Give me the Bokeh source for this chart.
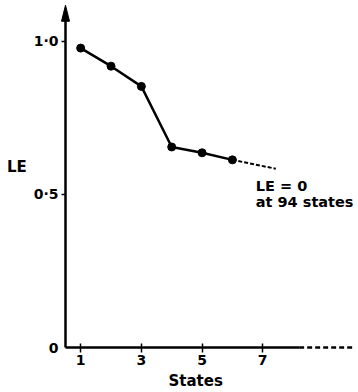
from bokeh.plotting import figure
from bokeh.models import Range1d, FixedTicker, Label, Title
from bokeh.embed import file_html
from bokeh.resources import INLINE

# data
states = [1, 2, 3, 4, 5, 6]
le = [0.978, 0.919, 0.853, 0.655, 0.636, 0.613]
trend_states = [6, 7.43]
trend_le = [0.613, 0.584]
x_ticks = [1, 3, 5, 7]
y_ticks = [0.0, 0.5, 1.0]
y_tick_labels = ["0", "0·5", "1·0"]
note_lines = ["LE = 0", "at 94 states"]

FONT = "DejaVu Sans"

X0, X1 = 0.335, 10.09
Y0, Y1 = -0.0163, 1.127
p = figure(width=358, height=392, output_backend="svg", toolbar_location=None,
           x_range=Range1d(X0, X1), y_range=Range1d(Y0, Y1),
           min_border_left=60, min_border_right=2, min_border_top=2, min_border_bottom=40)
p.outline_line_color = None
p.xgrid.visible = False
p.ygrid.visible = False

px_x = (X1 - X0) / (358 - 62)   # data units per pixel (x)
px_y = (Y1 - Y0) / (392 - 42)   # data units per pixel (y)

for ax in (p.xaxis, p.yaxis):
    ax.axis_line_color = None
    ax.minor_tick_line_color = None
    ax.major_tick_line_color = "black"
    ax.major_tick_line_width = 1.5
    ax.major_label_text_font = FONT
    ax.major_label_text_font_style = "bold"
    ax.major_label_text_font_size = "14px"
    ax.major_label_text_color = "black"

p.xaxis.ticker = FixedTicker(ticks=x_ticks)
p.xaxis.major_tick_in = 9
p.xaxis.major_tick_out = 0
p.xaxis.major_label_standoff = 2

p.yaxis.ticker = FixedTicker(ticks=y_ticks)
p.yaxis.major_label_overrides = {t: s for t, s in zip(y_ticks, y_tick_labels)}
p.yaxis.major_tick_in = 0
p.yaxis.major_tick_out = 0
p.yaxis.major_label_standoff = 2
p.yaxis.axis_label = "LE\n "
p.yaxis.axis_label_orientation = "horizontal"
p.yaxis.axis_label_text_font = FONT
p.yaxis.axis_label_text_font_style = "bold"
p.yaxis.axis_label_text_font_size = "15px"
p.yaxis.axis_label_text_color = "black"
p.yaxis.axis_label_standoff = 4

# axis lines
x_origin = 0.5
y_top = 1.118
p.line([x_origin, 8.2], [0, 0], line_color="black", line_width=2.5)
p.line([8.2, 10.0], [0, 0], line_color="black", line_width=2.5, line_dash="5 3")
p.line([x_origin, x_origin], [0, y_top - 12 * px_y], line_color="black", line_width=2.5)
p.patch([x_origin - 4 * px_x, x_origin, x_origin + 4 * px_x],
        [y_top - 16 * px_y, y_top, y_top - 16 * px_y],
        fill_color="black", line_color="black", line_width=1)
# y ticks
p.segment(x0=[x_origin - 4 * px_x] * 2, x1=[x_origin] * 2, y0=y_ticks[1:], y1=y_ticks[1:],
          line_color="black", line_width=1.5)

# data
p.line(states, le, line_color="black", line_width=2.5)
p.scatter(states, le, size=8, fill_color="black", line_color="black")
p.line(trend_states, trend_le, line_color="black", line_width=2, line_dash="4 2")

# notes
p.add_layout(Label(x=6.77, y=0.526, text=note_lines[0], text_font=FONT, text_font_style="bold",
                   text_font_size="14.5px", text_baseline="middle", text_color="black"))
p.add_layout(Label(x=6.77, y=0.474, text=note_lines[1], text_font=FONT, text_font_style="bold",
                   text_font_size="14.5px", text_baseline="middle", text_color="black"))

p.add_layout(Title(text="States", align="left", offset=108, text_font=FONT,
                   text_font_style="bold", text_font_size="15px", text_color="black",
                   standoff=4), "below")

open("out.html", "w").write(file_html(p, INLINE))
